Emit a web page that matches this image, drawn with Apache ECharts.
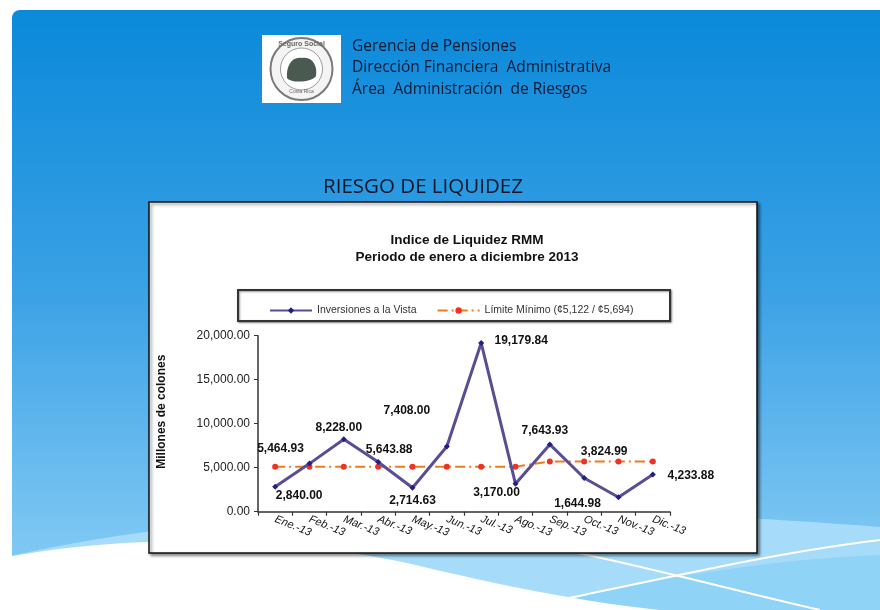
<!DOCTYPE html>
<html>
<head>
<meta charset="utf-8">
<script src="https://cdn.jsdelivr.net/npm/echarts@6/dist/echarts.min.js"></script>
<style>html,body{margin:0;padding:0;background:#fff}#c{width:880px;height:610px}</style>
</head>
<body>
<div id="c"></div>
<script>
// ---- data ----
var categories = ['Ene.-13','Feb.-13','Mar.-13','Abr.-13','May.-13','Jun.-13','Jul.-13','Ago.-13','Sep.-13','Oct.-13','Nov.-13','Dic.-13'];
var inversiones = [2840.00, 5464.93, 8228.00, 5643.88, 2714.63, 7408.00, 19179.84, 3170.00, 7643.93, 3824.99, 1644.98, 4233.88];
var limiteMinimo = [5122, 5122, 5122, 5122, 5122, 5122, 5122, 5122, 5694, 5694, 5694, 5694];
var yTicks = [0, 5000, 10000, 15000, 20000];
var seriesNames = ['Inversiones a la Vista', 'Límite Mínimo (¢5,122 / ¢5,694)'];
var headerLines = ['Gerencia de Pensiones', 'Dirección Financiera  Administrativa', 'Área  Administración  de Riesgos'];
var slideTitle = 'RIESGO DE LIQUIDEZ';
var chartTitle = ['Indice de Liquidez RMM', 'Periodo de enero a diciembre 2013'];
var yAxisName = 'Millones de colones';

// label offsets (style only)
var labelOffsets = [[24,9],[-29,-15],[-5,-12],[11,-12],[0,13],[-40,-36],[40,-2],[-19,9],[-5,-14],[20,-26],[-41,6],[38,1]];

function fmt(v){ return v.toLocaleString('en-US',{minimumFractionDigits:2, maximumFractionDigits:2}); }

var invData = inversiones.map(function(v,i){
  return {value:v, label:{offset:labelOffsets[i]}};
});

// decorative background shapes
var shapePaths = {
  bgWave1:'M12,556 C250,500 600,505 880,527 L880,610 L12,610 Z',
  bgWave2:'M560,600 C650,580 760,560 880,555 L880,610 L600,610 Z',
  bgWave3:'M12,556 C150,532 300,538 420,566 C520,590 600,604 660,610 L12,610 Z',
  bgLine1:'M560,600 C680,575 780,552 880,540',
  bgLine2:'M578,553 C660,570 740,592 820,610',
  logoShape:'M287,78 C286,66 292,56 302,58 C312,56 318,66 316,76 C313,82 292,84 287,78 Z'
};
Object.keys(shapePaths).forEach(function(k){
  echarts.graphic.registerShape(k, echarts.graphic.extendPath(shapePaths[k], {}));
});

var chart = echarts.init(document.getElementById('c'), null, {renderer:'canvas'});

var bg = [
  {type:'rect', z:-100, shape:{x:12,y:10,width:900,height:620,r:8},
   style:{fill:{type:'linear',x:0,y:0,x2:0,y2:1,colorStops:[
     {offset:0,color:'#0a89da'},{offset:0.45,color:'#3aa1e5'},{offset:0.85,color:'#7cc6f3'},{offset:1,color:'#8fd0f6'}]}}},
  {type:'bgWave1', z:-99, style:{fill:'#a6dcf9'}},
  {type:'bgWave2', z:-98, style:{fill:'#8fd3f7'}},
  {type:'bgWave3', z:-97, style:{fill:'#ffffff'}},
  {type:'bgLine1', z:-96, style:{fill:null, stroke:'#ffffff', lineWidth:2}},
  {type:'bgLine2', z:-96, style:{fill:null, stroke:'#ffffff', lineWidth:2}},
  // logo
  {type:'rect', z:-90, shape:{x:262,y:35,width:79,height:68}, style:{fill:'#ffffff'}},
  {type:'circle', z:-89, shape:{cx:301.5,cy:69,r:31}, style:{fill:'#f4f4f4', stroke:'#7a7a7a', lineWidth:2}},
  {type:'circle', z:-88, shape:{cx:301.5,cy:69,r:21}, style:{fill:'#ffffff', stroke:'#9a9a9a', lineWidth:1}},
  {type:'logoShape', z:-87, style:{fill:'#4a5a50'}},
  {type:'text', z:-86, style:{x:301.5,y:44,text:'Seguro Social',fill:'#666',font:'bold 7px Liberation Sans',textAlign:'center',textVerticalAlign:'middle'}},
  {type:'text', z:-86, style:{x:301.5,y:92,text:'Costa Rica',fill:'#666',font:'5px Liberation Sans',textAlign:'center',textVerticalAlign:'middle'}},
  // header text
  {type:'text', z:-80, style:{x:352,y:47,text:headerLines[0],fill:'#121833',font:'15.5px Open Sans',textVerticalAlign:'middle'}},
  {type:'text', z:-80, style:{x:352,y:68,text:headerLines[1],fill:'#121833',font:'15.5px Open Sans',textVerticalAlign:'middle'}},
  {type:'text', z:-80, style:{x:352,y:90,text:headerLines[2],fill:'#121833',font:'15.5px Open Sans',textVerticalAlign:'middle'}},
  {type:'text', z:-80, style:{x:423,y:187,text:slideTitle,fill:'#12162a',font:'20.5px Open Sans',textAlign:'center',textVerticalAlign:'middle'}},
  // chart box
  {type:'rect', z:-50, shape:{x:149,y:202,width:608,height:351},
   style:{fill:'#ffffff', stroke:'#111111', lineWidth:1.5, shadowBlur:3, shadowOffsetX:2, shadowOffsetY:2, shadowColor:'rgba(0,0,0,0.45)'}},
  {type:'rect', z:-40, shape:{x:238,y:290,width:432,height:31},
   style:{fill:'#ffffff', stroke:'#333333', lineWidth:2, shadowBlur:2, shadowOffsetX:1, shadowOffsetY:1, shadowColor:'rgba(0,0,0,0.4)'}},
  {type:'text', z:-40, style:{x:467,y:240,text:chartTitle[0],fill:'#111',font:'bold 13.5px Liberation Sans',textAlign:'center',textVerticalAlign:'middle'}},
  {type:'text', z:-40, style:{x:467,y:257,text:chartTitle[1],fill:'#111',font:'bold 13.5px Liberation Sans',textAlign:'center',textVerticalAlign:'middle'}}
];

var option = {
  animation:false,
  textStyle:{fontFamily:'Liberation Sans'},
  graphic:{elements:bg},
  legend:{
    zlevel:1,
    left:264, top:300,
    itemWidth:42, itemHeight:8, itemGap:20,
    textStyle:{fontSize:10.5, color:'#333', fontFamily:'Liberation Sans'},
    data:seriesNames
  },
  grid:{zlevel:1, left:258, top:335.7, right:210, bottom:98.3, containLabel:false},
  xAxis:{
    zlevel:1,
    type:'category', data:categories, boundaryGap:true,
    axisLine:{lineStyle:{color:'#333', width:1.5}},
    axisTick:{show:true, length:4, lineStyle:{color:'#333', width:1.2}},
    axisLabel:{rotate:-22, fontSize:11, color:'#111', margin:7, fontStyle:'italic', interval:0}
  },
  yAxis:{
    zlevel:1,
    type:'value', min:yTicks[0], max:yTicks[yTicks.length-1], interval:yTicks[1]-yTicks[0],
    name:yAxisName, nameLocation:'middle', nameGap:90, nameRotate:90,
    nameTextStyle:{fontSize:12, fontWeight:'bold', color:'#111', padding:[0,0,0,24]},
    axisLine:{show:true, lineStyle:{color:'#333', width:1.5}},
    axisTick:{show:true, length:4, lineStyle:{color:'#333'}},
    splitLine:{show:false},
    axisLabel:{fontSize:12, color:'#222', margin:8, formatter:function(v){return fmt(v);}}
  },
  series:[
    {
      name:seriesNames[0], type:'line', zlevel:1, z:3, data:invData,
      symbol:'diamond', symbolSize:6,
      itemStyle:{color:'#1f1f85'},
      lineStyle:{color:'#5b4d91', width:3},
      label:{show:true, position:'inside', fontSize:12, fontWeight:'bold', color:'#111',
             formatter:function(p){return fmt(p.value);}}
    },
    {
      name:seriesNames[1], type:'line', zlevel:1, z:2, data:limiteMinimo,
      symbol:'circle', symbolSize:6,
      itemStyle:{color:'#ee3322'},
      lineStyle:{color:'#f07a1e', width:2, type:[10,4,2,4]}
    }
  ]
};
chart.setOption(option);
</script>
</body>
</html>
